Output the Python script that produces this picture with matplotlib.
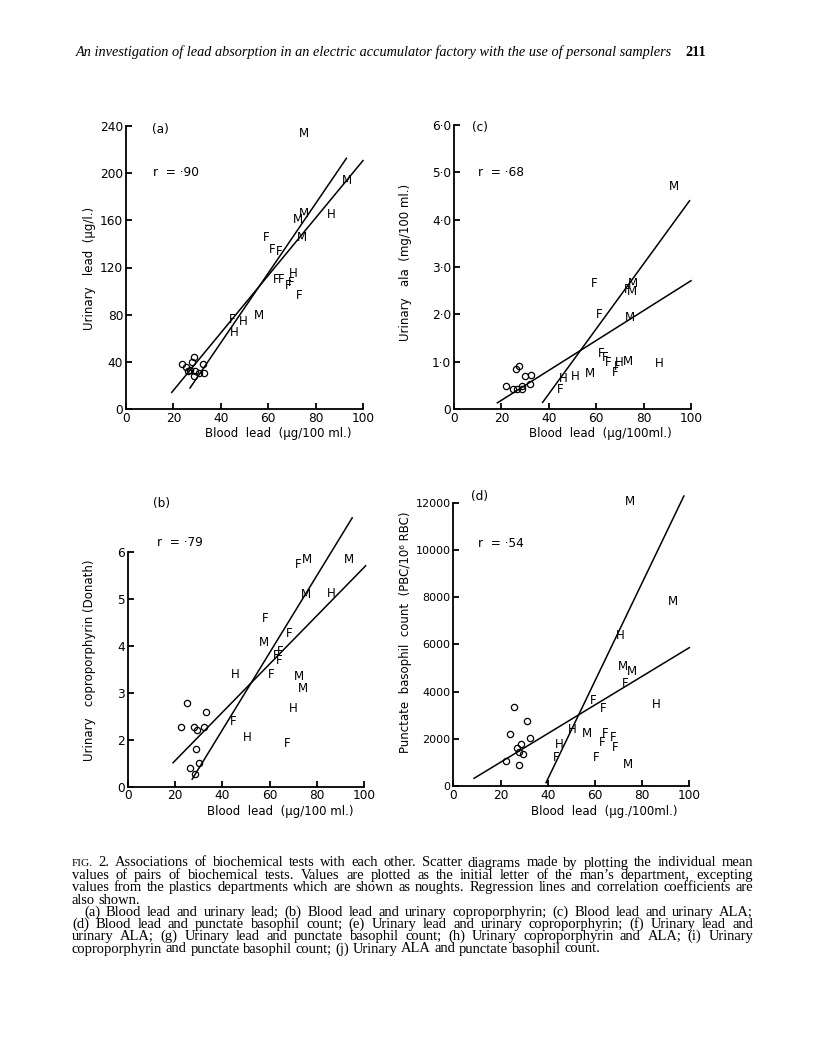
import matplotlib
matplotlib.use("Agg")
import matplotlib.pyplot as plt

# ---------------- data ----------------
# (a) Blood lead vs urinary lead
a_let = ['M', 'M', 'M', 'M', 'H', 'M', 'F', 'F', 'F', 'F', 'F', 'H', 'F', 'F', 'F', 'F', 'H', 'H', 'M']
a_let_x = [75.2, 93.2, 72.4, 75.2, 86.5, 74.2, 59.0, 61.5, 64.8, 63.4, 65.5, 70.7, 69.6, 68.6, 73.2, 44.6, 49.6, 45.8, 56.3]
a_let_y = [234, 193.7, 160.8, 165.9, 164.6, 145.4, 145.7, 135.5, 133.6, 110, 110, 114.6, 107.6, 104.5, 96.3, 76.2, 74, 65, 79.4]
a_o_x = [23.5, 25.4, 26.0, 27.0, 27.9, 28.7, 29.2, 28.9, 30.6, 32.3, 33.1]
a_o_y = [38, 35.3, 32.5, 33.3, 39.8, 44, 31.9, 27.7, 30.5, 38.4, 30.5]
a_l1_x, a_l1_y = [19.3, 100.0], [14.1, 210.7]
a_l2_x, a_l2_y = [27.0, 93.0], [17.8, 212.6]
a_yticks = [0, 40, 80, 120, 160, 200, 240]
a_yticklabels = ['0', '40', '80', '120', '160', '200', '240']

# (c) Blood lead vs urinary ALA
c_let = ['M', 'F', 'M', 'F', 'M', 'F', 'M', 'F', 'F', 'F', 'H', 'M', 'F', 'F', 'H', 'M', 'H', 'H', 'F']
c_let_x = [92.9, 59.1, 75.7, 72.9, 75.0, 61.2, 74.3, 62.3, 64.0, 65.2, 69.7, 73.6, 69.0, 68.0, 86.7, 57.4, 51.1, 46.1, 44.7]
c_let_y = [4.71, 2.66, 2.66, 2.53, 2.48, 1.99, 1.94, 1.18, 1.08, 0.99, 0.99, 1.01, 0.90, 0.77, 0.97, 0.76, 0.68, 0.65, 0.41]
c_o_x = [26.1, 27.5, 29.9, 32.7, 22.1, 25.0, 26.7, 28.9, 28.5, 32.0]
c_o_y = [0.84, 0.90, 0.70, 0.72, 0.49, 0.42, 0.42, 0.43, 0.49, 0.53]
c_l1_x, c_l1_y = [37.4, 99.4], [0.14, 4.40]
c_l2_x, c_l2_y = [18.3, 100.0], [0.13, 2.71]
c_yticks = [0, 1, 2, 3, 4, 5, 6]
c_yticklabels = ['0', '1\u00b70', '2\u00b70', '3\u00b70', '4\u00b70', '5\u00b70', '6\u00b70']

# (b) Blood lead vs urinary coproporphyrin (axis broken: bottom tick labelled 0)
b_let = ['F', 'M', 'M', 'M', 'H', 'F', 'F', 'M', 'F', 'F', 'F', 'H', 'F', 'M', 'M', 'H', 'F', 'H', 'F']
b_let_x = [72.1, 76.0, 93.6, 75.4, 86.3, 58.3, 68.3, 57.6, 62.9, 64.4, 64.0, 45.5, 60.5, 72.4, 74.3, 70.0, 44.6, 50.5, 67.6]
b_let_y = [5.73, 5.84, 5.84, 5.09, 5.11, 4.57, 4.26, 4.06, 3.80, 3.87, 3.68, 3.39, 3.39, 3.35, 3.08, 2.66, 2.38, 2.05, 1.91]
b_o_x = [24.9, 22.6, 27.9, 29.3, 32.2, 32.9, 29.0, 30.0, 26.2, 28.3]
b_o_y = [2.79, 2.28, 2.26, 2.21, 2.28, 2.58, 1.80, 1.50, 1.39, 1.28]
b_l1_x, b_l1_y = [27.2, 95.0], [1.16, 6.72]
b_l2_x, b_l2_y = [19.1, 100.7], [1.51, 5.70]
b_yticks = [1, 2, 3, 4, 5, 6]
b_yticklabels = ['0', '2', '3', '4', '5', '6']

# (d) Blood lead vs punctate basophil count
d_let = ['M', 'M', 'H', 'M', 'M', 'F', 'H', 'F', 'F', 'H', 'M', 'F', 'F', 'F', 'F', 'H', 'F', 'F', 'M']
d_let_x = [74.9, 93.2, 70.6, 71.8, 75.8, 72.7, 86.2, 59.3, 63.3, 50.4, 56.5, 64.3, 67.8, 62.9, 68.5, 44.9, 43.8, 60.5, 74.2]
d_let_y = [12045, 7808, 6396, 5055, 4871, 4349, 3431, 3615, 3262, 2400, 2231, 2231, 2047, 1836, 1638, 1737, 1214, 1214, 890]
d_o_x = [25.8, 24.0, 31.4, 32.5, 28.5, 27.1, 27.8, 29.7, 22.3, 28.0]
d_o_y = [3332, 2203, 2768, 2019, 1779, 1624, 1454, 1341, 1073, 875]
d_l1_x, d_l1_y = [39.3, 97.7], [141, 12284]
d_l2_x, d_l2_y = [8.8, 100.0], [325, 5860]
d_yticks = [0, 2000, 4000, 6000, 8000, 10000, 12000]
d_yticklabels = ['0', '2000', '4000', '6000', '8000', '10000', '12000']

x_ticks = [0, 20, 40, 60, 80, 100]
x_ticklabels = ['0', '20', '40', '60', '80', '100']

# ---------------- figure ----------------
W, H = 816, 1063
fig = plt.figure(figsize=(W / 100, H / 100), dpi=100)
fig.patch.set_facecolor('white')
SANS = ['DejaVu Sans']
SERIF = ['Liberation Serif', 'DejaVu Serif']


def make_ax(x0, x100, ybot, ytop, ylim, yticks, ylabels, ybound):
    ax = fig.add_axes([x0 / W, 1 - ybot / H, (x100 - x0) / W, (ybot - ytop) / H])
    ax.set_xlim(0, 100)
    ax.set_ylim(*ylim)
    ax.patch.set_alpha(0)
    for s in ['top', 'right']:
        ax.spines[s].set_visible(False)
    for s in ['left', 'bottom']:
        ax.spines[s].set_linewidth(1.3)
    ax.spines['left'].set_bounds(*ybound)
    ax.spines['bottom'].set_bounds(0, 100)
    ax.set_xticks(x_ticks)
    ax.set_xticklabels(x_ticklabels, family=SANS)
    ax.set_yticks(yticks)
    ax.set_yticklabels(ylabels, family=SANS)
    ax.tick_params(direction='in', length=4, width=1.3, labelsize=8.7, pad=2)
    return ax


def draw(ax, lx, ly, lt, ox, oy, l1x, l1y, l2x, l2y):
    ax.plot(l1x, l1y, color='black', lw=1.1, clip_on=False)
    ax.plot(l2x, l2y, color='black', lw=1.1, clip_on=False)
    for x, y, t in zip(lx, ly, lt):
        ax.text(x, y, t, ha='center', va='center', fontsize=8.5, family=SANS, clip_on=False)
    ax.plot(ox, oy, 'o', mfc='none', mec='black', ms=4.5, mew=0.9, clip_on=False, ls='none')


ax_a = make_ax(126, 363, 409, 126, (0, 240), a_yticks, a_yticklabels, (0, 240))
draw(ax_a, a_let_x, a_let_y, a_let, a_o_x, a_o_y, a_l1_x, a_l1_y, a_l2_x, a_l2_y)

ax_c = make_ax(454, 691, 409, 125, (0, 6), c_yticks, c_yticklabels, (0, 6))
draw(ax_c, c_let_x, c_let_y, c_let, c_o_x, c_o_y, c_l1_x, c_l1_y, c_l2_x, c_l2_y)

ax_b = make_ax(128, 364, 786.7, 551.7, (1, 6), b_yticks, b_yticklabels, (1, 6))
draw(ax_b, b_let_x, b_let_y, b_let, b_o_x, b_o_y, b_l1_x, b_l1_y, b_l2_x, b_l2_y)

ax_d = make_ax(453.3, 689.3, 786, 502.7, (0, 12000), d_yticks, d_yticklabels, (0, 12000))
draw(ax_d, d_let_x, d_let_y, d_let, d_o_x, d_o_y, d_l1_x, d_l1_y, d_l2_x, d_l2_y)
ax_d.tick_params(axis='y', labelsize=8.0)


def ftext(x, y, s, **kw):
    kw.setdefault('family', SANS)
    kw.setdefault('va', 'center')
    return fig.text(x / W, 1 - y / H, s, **kw)


# panel labels and r values
ftext(160, 130, '(a)', fontsize=8.7, ha='center')
ftext(480, 127, '(c)', fontsize=8.7, ha='center')
ftext(162, 503, '(b)', fontsize=8.7, ha='center')
ftext(480, 497, '(d)', fontsize=8.7, ha='center')
ftext(153, 173, 'r  = \u00b790', fontsize=8.7, ha='left')
ftext(478, 173, 'r  = \u00b768', fontsize=8.7, ha='left')
ftext(157, 542, 'r  = \u00b779', fontsize=8.7, ha='left')
ftext(478, 543, 'r  = \u00b754', fontsize=8.7, ha='left')

# axis labels
ftext(278, 433, 'Blood  lead  (\u00b5g/100 ml.)', fontsize=8.5, ha='center')
ftext(600, 433, 'Blood  lead  (\u00b5g/100ml.)', fontsize=8.5, ha='center')
ftext(280, 812, 'Blood  lead  (\u00b5g/100 ml.)', fontsize=8.5, ha='center')
ftext(604, 812, 'Blood  lead  (\u00b5g./100ml.)', fontsize=8.5, ha='center')
ftext(90, 268, 'Urinary   lead  (\u00b5g/l.)', fontsize=8.5, ha='center', rotation=90)
ftext(406, 262, 'Urinary   ala  (mg/100 ml.)', fontsize=8.5, ha='center', rotation=90)
ftext(90, 660, 'Urinary   coproporphyrin (Donath)', fontsize=8.5, ha='center', rotation=90)
ftext(406, 632, 'Punctate  basophil  count  (PBC/10\u2076 RBC)', fontsize=8.5, ha='center', rotation=90)

# header
ftext(76, 52, 'An investigation of lead absorption in an electric accumulator factory with the use of personal samplers',
      family=SERIF, style='italic', fontsize=10.3, ha='left')
ftext(685, 52, '211', family=SERIF, weight='bold', fontsize=10.3, ha='left')

# caption (justified)
renderer = fig.canvas.get_renderer()

cap_lines = [
    ("FIG. 2.  Associations of biochemical tests with each other. Scatter diagrams made by plotting the individual mean", 72, True),
    ("values of pairs of biochemical tests. Values are plotted as the initial letter of the man\u2019s department, excepting", 72, True),
    ("values from the plastics departments which are shown as noughts. Regression lines and correlation coefficients are", 72, True),
    ("also shown.", 72, False),
    ("(a) Blood lead and urinary lead; (b) Blood lead and urinary coproporphyrin; (c) Blood lead and urinary ALA;", 84, True),
    ("(d) Blood lead and punctate basophil count; (e) Urinary lead and urinary coproporphyrin; (f) Urinary lead and", 72, True),
    ("urinary ALA; (g) Urinary lead and punctate basophil count; (h) Urinary coproporphyrin and ALA; (i) Urinary", 72, True),
    ("coproporphyrin and punctate basophil count; (j) Urinary ALA and punctate basophil count.", 72, False),
]
cap_y = [863, 875.5, 887.7, 900, 912.3, 924.5, 936.7, 949]
X_RIGHT = 753

# choose caption size so that the widest justified line fits the column
nat = 0
for txt, x0, just in cap_lines:
    if just:
        probe = ftext(0, 0, txt, family=SERIF, fontsize=10, ha='left')
        nat = max(nat, probe.get_window_extent(renderer).width / (X_RIGHT - x0))
        probe.remove()
CAP = 10 / nat * 0.975


def cap_line(text, x0, x1, y, justify=True):
    words = text.split(' ')
    items = []
    for w in words:
        size = CAP * 0.78 if w == 'FIG.' else CAP
        items.append(ftext(0, y, w, family=SERIF, fontsize=size, ha='left'))
    widths = [t.get_window_extent(renderer).width for t in items]
    if justify and len(items) > 1:
        gap = (x1 - x0 - sum(widths)) / (len(items) - 1)
    else:
        gap = CAP * 0.25 * 100 / 72
    x = x0
    for t, w in zip(items, widths):
        t.set_x(x / W)
        x += w + gap


for (txt, x0, just), yy in zip(cap_lines, cap_y):
    cap_line(txt.replace('  ', ' '), x0, X_RIGHT, yy, just)

fig.savefig('out.png', dpi=100, facecolor='white')
